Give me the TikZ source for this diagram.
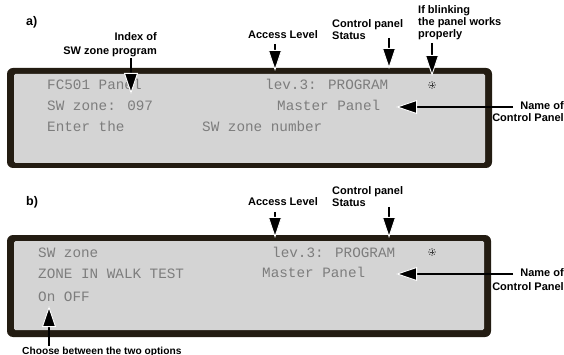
\documentclass[tikz,border=0pt]{standalone}
\usepackage{fontspec}
\setmainfont{Liberation Sans}
\newfontfamily\lcd{Liberation Mono}
\usetikzlibrary{arrows.meta}
\definecolor{frame}{RGB}{35,28,18}
\definecolor{lcdbg}{RGB}{212,212,212}
\definecolor{lcdtxt}{RGB}{125,125,125}
\tikzset{
  lbl/.style={font=\bfseries\fontsize{11}{12}\selectfont, inner sep=0pt, text=black},
  tag/.style={font=\bfseries\fontsize{12.5}{14}\selectfont, inner sep=0pt, anchor=base west},
  lcdtext/.style={font=\lcd\fontsize{14.3}{16}\selectfont, text=lcdtxt, inner sep=0pt, anchor=base west},
  pointer/.style={line width=1.2pt, draw=black,
    -{Triangle[length=21pt,width=14pt,color=white,fill=black,line width=0.9pt]}},
  blink/.style={fill=black!75}
}
\newcommand{\blinkdot}[1]{%
  \foreach \a in {0,45,...,315}{\fill[blink] (#1) ++(\a:3.1) circle (0.7);}
  \draw[black!75, line width=0.6pt] (#1) ++(-1.7,0) -- ++(3.4,0);
  \draw[black!75, line width=0.6pt] (#1) ++(0,-1.7) -- ++(0,3.4);
}
\begin{document}
\begin{tikzpicture}[x=1pt,y=-1pt]
\useasboundingbox (0,0) rectangle (564,355);

% ---------- panel a ----------
\fill[frame, rounded corners=6pt] (7,68) rectangle (492,168);
\fill[lcdbg, rounded corners=1.5pt] (14,74) rectangle (485,163);
\node[lcdtext] (a1) at (47,89.5) {FC501 Panel};
\node[lcdtext] (a2) at (47,110.5) {SW zone: 097};
\node[lcdtext] (a3) at (47,131.5) {Enter the};
\node[lcdtext] (a4) at (202,131.5) {SW zone number};
\node[lcdtext] (a5) at (265,89.5) {lev.3: PROGRAM};
\node[lcdtext] (a6) at (277,110.5) {Master Panel};
\coordinate (ablink) at (432,85);
\blinkdot{ablink}

\node[tag] (taga) at (26,26) {a)};
\node[lbl, anchor=north east, align=right] (idx) at (157,32) {Index of\\[2pt]SW zone program};
\node[lbl] (acca) at (283,35) {Access Level};
\node[lbl, anchor=north west, align=left] (stata) at (332,19) {Control panel\\Status};
\node[lbl, anchor=north west, align=left] (blk) at (418,5.5) {If blinking\\the panel works\\properly};
\node[lbl, anchor=north east, align=right] (namea) at (564,101) {Name of\\Control Panel};

\coordinate (idxS) at (131,58);   \coordinate (idxT) at (131,94);
\coordinate (accaS) at (275,44);  \coordinate (accaT) at (275,71);
\coordinate (stataS) at (389,38); \coordinate (stataT) at (389,69);
\coordinate (blkS) at (432,43);   \coordinate (blkT) at (432,76);
\coordinate (nameaS) at (513,107); \coordinate (nameaT) at (396,107);
\draw[pointer] (idxS) -- (idxT);
\draw[pointer] (accaS) -- (accaT);
\draw[pointer] (stataS) -- (stataT);
\draw[pointer] (blkS) -- (blkT);
\draw[pointer] (nameaS) -- (nameaT);

% ---------- panel b ----------
\fill[frame, rounded corners=6pt] (7,235) rectangle (491,337);
\fill[lcdbg, rounded corners=1.5pt] (14,241) rectangle (484,330);
\node[lcdtext] (b1) at (38,257.5) {SW zone};
\node[lcdtext] (b2) at (38,278.5) {ZONE IN WALK TEST};
\node[lcdtext] (b3) at (38,301.5) {On OFF};
\node[lcdtext] (b4) at (272,257.5) {lev.3: PROGRAM};
\node[lcdtext] (b5) at (262,277.5) {Master Panel};
\coordinate (bblink) at (432,252);
\blinkdot{bblink}

\node[tag] (tagb) at (26,206) {b)};
\node[lbl] (accb) at (283,202) {Access Level};
\node[lbl, anchor=north west, align=left] (statb) at (332,186) {Control panel\\Status};
\node[lbl, anchor=north east, align=right] (nameb) at (564,268) {Name of\\[2pt]Control Panel};
\node[lbl, font=\bfseries\fontsize{10.2}{12}\selectfont, anchor=base west] (choose) at (22,354) {Choose between the two options};

\coordinate (accbS) at (275,212);  \coordinate (accbT) at (275,238);
\coordinate (statbS) at (389,207); \coordinate (statbT) at (389,238);
\coordinate (namebS) at (513,274); \coordinate (namebT) at (396,274);
\coordinate (chS) at (49,346);     \coordinate (chT) at (49,306);
\draw[pointer] (accbS) -- (accbT);
\draw[pointer] (statbS) -- (statbT);
\draw[pointer] (namebS) -- (namebT);
\draw[pointer] (chS) -- (chT);
\end{tikzpicture}
\end{document}
